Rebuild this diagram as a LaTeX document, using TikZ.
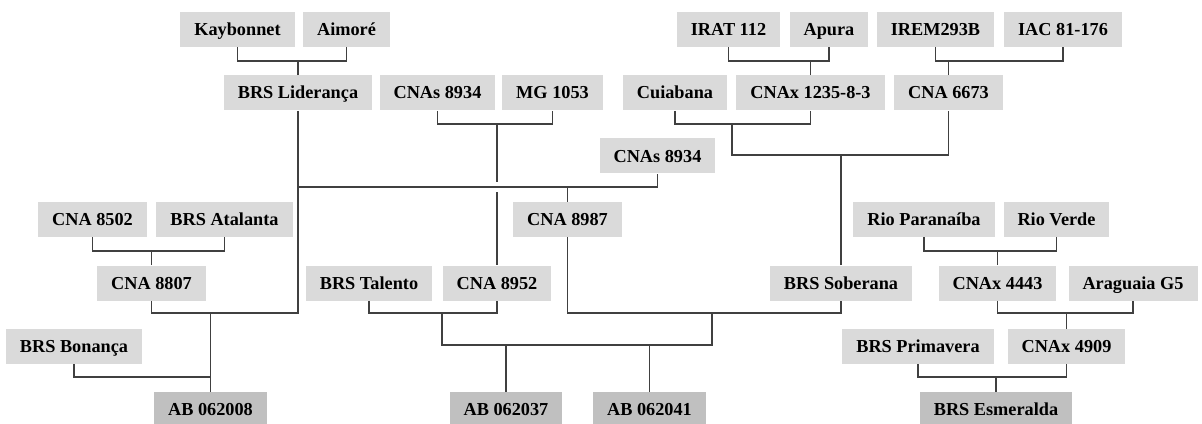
\documentclass[tikz,border=0pt]{standalone}
\usepackage{fontspec}
\setmainfont{Liberation Serif}
\usepackage{tikz}

\definecolor{boxgray}{RGB}{218,218,218}
\definecolor{rootgray}{RGB}{192,192,192}
\definecolor{linegray}{RGB}{64,64,64}

\begin{document}
\begin{tikzpicture}[x=0.75pt, y=-0.75pt,
    box/.style={fill=boxgray, inner xsep=10.5pt, inner ysep=0pt, minimum height=26.25pt,
        text height=12pt, text depth=3pt, font=\fontsize{13.7}{16}\selectfont\bfseries},
    root/.style={box, fill=rootgray},
    link/.style={draw=linegray, line width=1.1pt}]
    \useasboundingbox (0,0) rectangle (1202,424);

    % levels of the brackets
    \coordinate (L1) at (0,61);
    \coordinate (L2) at (0,124);
    \coordinate (L3) at (0,155);
    \coordinate (L4) at (0,187);
    \coordinate (L5) at (0,251);
    \coordinate (L6) at (0,313);
    \coordinate (L7) at (0,345);
    \coordinate (L8) at (0,377);
    \coordinate (G1) at (0,182);
    \coordinate (G2) at (0,192);
    \coordinate (jcui) at (732,124);
    \coordinate (jtal) at (442,313);
    \coordinate (jsob) at (712,313);

    % row 1
    \node[box] (kay) at (237.5,29.5) {Kaybonnet};
    \node[box] (aim) at (346.5,29.5) {Aimoré};
    \node[box] (irat) at (728.5,29.5) {IRAT 112};
    \node[box] (apu) at (829,29.5) {Apura};
    \node[box] (irem) at (935.5,29.5) {IREM293B};
    \node[box] (iac) at (1063,29.5) {IAC 81-176};
    % row 2
    \node[box] (lid) at (298,93) {BRS Liderança};
    \node[box] (cnas1) at (437.5,93) {CNAs 8934};
    \node[box] (mg) at (552.5,93) {MG 1053};
    \node[box] (cui) at (675,93) {Cuiabana};
    \node[box] (cnax) at (810.5,93) {CNAx 1235-8-3};
    \node[box] (c6673) at (948.5,93) {CNA 6673};
    % row 3
    \node[box] (cnas2) at (657.5,156) {CNAs 8934};
    % row 4
    \node[box] (c8502) at (92.5,219.5) {CNA 8502};
    \node[box] (ata) at (224.5,219.5) {BRS Atalanta};
    \node[box] (c8987) at (567.5,219.5) {CNA 8987};
    \node[box] (rpar) at (924,219.5) {Rio Paranaíba};
    \node[box] (rver) at (1056.5,219.5) {Rio Verde};
    % row 5
    \node[box] (c8807) at (151.5,283) {CNA 8807};
    \node[box] (tal) at (369,283) {BRS Talento};
    \node[box] (c8952) at (497,283) {CNA 8952};
    \node[box] (sob) at (841,283) {BRS Soberana};
    \node[box] (c4443) at (997.5,283) {CNAx 4443};
    \node[box] (ara) at (1133,283) {Araguaia G5};
    % row 6
    \node[box] (bon) at (74,346.5) {BRS Bonança};
    \node[box] (pri) at (918,346.5) {BRS Primavera};
    \node[box] (c4909) at (1066.5,346.5) {CNAx 4909};
    % row 7
    \node[root] (ab08) at (210.5,409.5) {AB 062008};
    \node[root] (ab37) at (506,409.5) {AB 062037};
    \node[root] (ab41) at (649.5,409.5) {AB 062041};
    \node[root] (esm) at (996,409.5) {BRS Esmeralda};

    % crosses
    \draw[link] (kay.south) -- (kay.south |- L1) -| (aim.south);
    \draw[link] (lid.north) -- (lid.north |- L1);
    \draw[link] (irat.south) -- (irat.south |- L1) -| (apu.south);
    \draw[link] (cnax.north) -- (cnax.north |- L1);
    \draw[link] (irem.south) -- (irem.south |- L1) -| (iac.south);
    \draw[link] (c6673.north) -- (c6673.north |- L1);

    \draw[link] (cnas1.south) -- (cnas1.south |- L2) -| (mg.south);
    \draw[link] (c8952.north |- L2) -- (c8952.north |- G1);
    \draw[link] (c8952.north |- G2) -- (c8952.north);

    \draw[link] (cui.south) -- (cui.south |- L2) -| (cnax.south);
    \draw[link] (jcui) |- (c6673.south |- L3) -- (c6673.south);
    \draw[link] (sob.north) -- (sob.north |- L3);

    \draw[link] (lid.south) |- (c8807.south |- L6) -- (c8807.south);
    \draw[link] (lid.south |- L4) -| (cnas2.south);
    \draw[link] (c8987.north) -- (c8987.north |- L4);
    \draw[link] (ab08.north) -- (ab08.north |- L6);
    \draw[link] (bon.south) |- (ab08.north |- L8);

    \draw[link] (c8502.south) -- (c8502.south |- L5) -| (ata.south);
    \draw[link] (c8807.north) -- (c8807.north |- L5);

    \draw[link] (tal.south) -- (tal.south |- L6) -| (c8952.south);
    \draw[link] (c8987.south) |- (sob.south |- L6) -- (sob.south);
    \draw[link] (jtal) |- (jsob |- L7) -- (jsob);
    \draw[link] (ab37.north) -- (ab37.north |- L7);
    \draw[link] (ab41.north) -- (ab41.north |- L7);

    \draw[link] (rpar.south) -- (rpar.south |- L5) -| (rver.south);
    \draw[link] (c4443.north) -- (c4443.north |- L5);
    \draw[link] (c4443.south) -- (c4443.south |- L6) -| (ara.south);
    \draw[link] (c4909.north) -- (c4909.north |- L6);
    \draw[link] (pri.south) -- (pri.south |- L8) -| (c4909.south);
    \draw[link] (esm.north) -- (esm.north |- L8);
\end{tikzpicture}
\end{document}
